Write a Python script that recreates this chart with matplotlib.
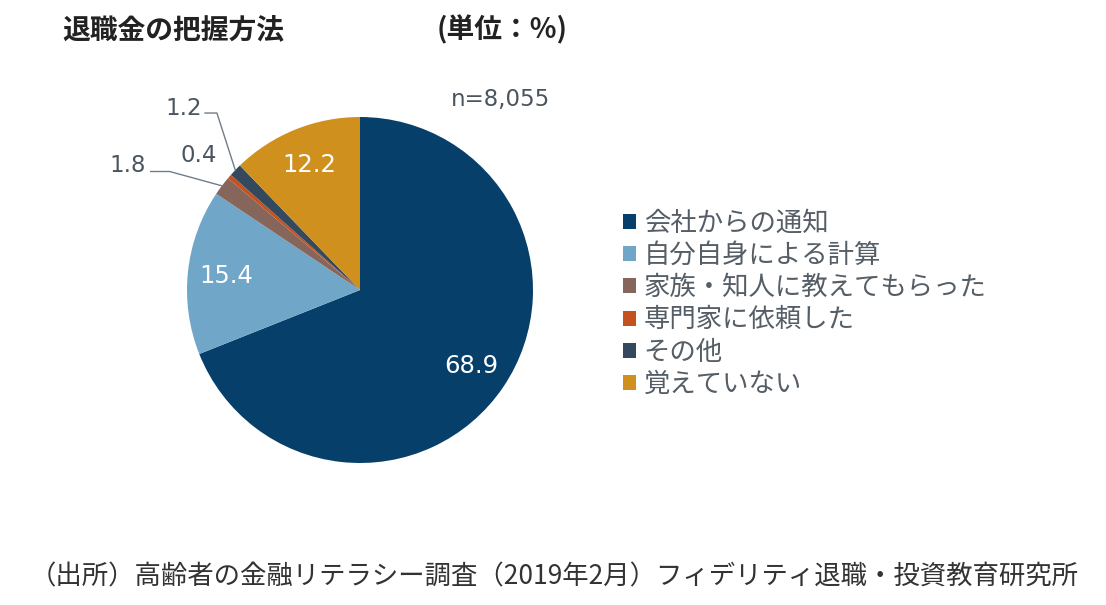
import numpy as np
import matplotlib
matplotlib.use("Agg")
import matplotlib.pyplot as plt
from matplotlib.patches import Patch

plt.rcParams['font.family'] = ['Noto Sans CJK JP', 'DejaVu Sans']

# data
labels = ['会社からの通知', '自分自身による計算', '家族・知人に教えてもらった',
          '専門家に依頼した', 'その他', '覚えていない']
values = [68.9, 15.4, 1.8, 0.4, 1.2, 12.2]
colors = ['#073f6b', '#70a7c9', '#86665a', '#c4511e', '#34495e', '#d0901e']
n_text = 'n=8,055'

W, H = 1106, 605
fig = plt.figure(figsize=(W / 100, H / 100), dpi=100)

# pie axes placed by pixel centre / radius
cx, cy, r = 360, 290, 173
ax = fig.add_axes([(cx - r) / W, 1 - (cy + r) / H, 2 * r / W, 2 * r / H])
wedges, _ = ax.pie(values, colors=colors, startangle=90, counterclock=False,
                   radius=1, wedgeprops=dict(linewidth=0))
ax.set_xlim(-1, 1)
ax.set_ylim(-1, 1)
ax.set_aspect('equal')
ax.axis('off')

def mid(w, rr=1.0):
    a = np.deg2rad((w.theta1 + w.theta2) / 2)
    return rr * np.cos(a), rr * np.sin(a)

# inside labels for the big slices
for i in [0, 1, 5]:
    x, y = mid(wedges[i], 0.78)
    ax.text(x, y, f'{values[i]:.1f}', color='white', fontsize=17.5,
            ha='center', va='center', family='DejaVu Sans')

txt_col = '#4a5560'
line_col = '#6f7d8a'
ofs = 16.5

# 1.8 with leader
x, y = mid(wedges[2])
ax.plot([-1.21, -1.10, x], [0.685, 0.685, y], color=line_col, lw=1, clip_on=False)
ax.text(-1.34, 0.72, f'{values[2]:.1f}', color=txt_col, fontsize=ofs,
        ha='center', va='center', family='DejaVu Sans')
# 0.4 no leader
ax.text(-0.93, 0.78, f'{values[3]:.1f}', color=txt_col, fontsize=ofs,
        ha='center', va='center', family='DejaVu Sans')
# 1.2 with leader
x, y = mid(wedges[4])
ax.plot([-0.896, -0.827, x], [1.023, 1.023, y], color=line_col, lw=1, clip_on=False)
ax.text(-1.02, 1.05, f'{values[4]:.1f}', color=txt_col, fontsize=ofs,
        ha='center', va='center', family='DejaVu Sans')

ax.text(0.81, 1.10, n_text, color=txt_col, fontsize=ofs,
        ha='center', va='center', family='DejaVu Sans')

# legend
handles = [Patch(facecolor=c, edgecolor='none') for c in colors]
leg = fig.legend(handles, labels, loc='upper left',
                 bbox_to_anchor=(612 / W, 1 - 199 / H), frameon=False,
                 fontsize=19, handlelength=0.5, handleheight=0.5,
                 handletextpad=0.3, labelspacing=0.2, borderaxespad=0)
for t in leg.get_texts():
    t.set_color('#555e66')

# titles
fig.text(62 / W, 1 - 30 / H, '退職金の把握方法', fontsize=20, fontweight='bold',
         color='#222222', va='center', ha='left')
fig.text(437 / W, 1 - 30 / H, '(単位：%)', fontsize=20, fontweight='bold',
         color='#222222', va='center', ha='left')

fig.text(30 / W, 1 - 577 / H,
         '（出所）高齢者の金融リテラシー調査（2019年2月）フィデリティ退職・投資教育研究所',
         fontsize=19, color='#333333', va='center', ha='left')

fig.savefig('out.png', dpi=100, facecolor='white')
